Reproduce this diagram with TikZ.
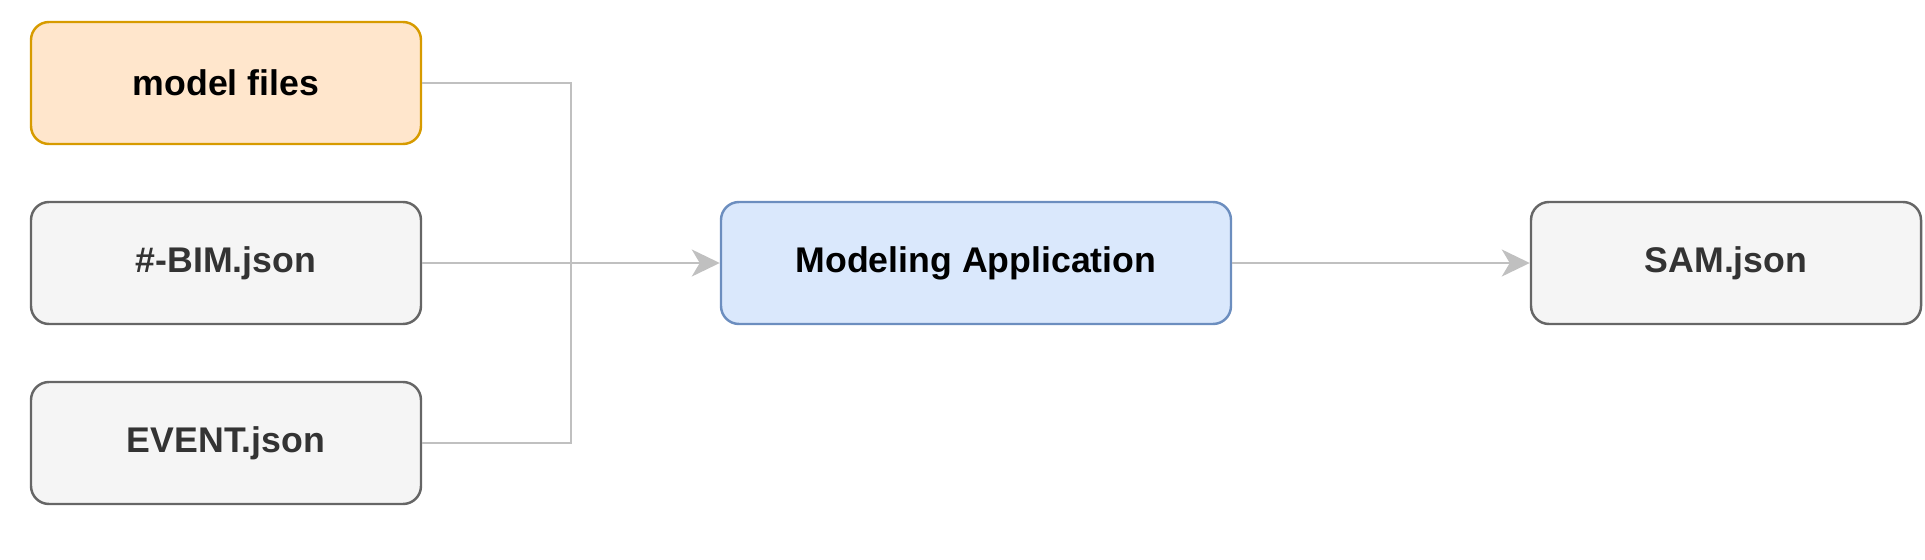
\documentclass[tikz,border=0pt]{standalone}
\usepackage{fontspec}
\setmainfont{Liberation Sans}
\definecolor{MFill}{HTML}{FFE6CC}
\definecolor{MLine}{HTML}{D79B00}
\definecolor{GFill}{HTML}{F5F5F5}
\definecolor{GLine}{HTML}{666666}
\definecolor{GText}{HTML}{333333}
\definecolor{BFill}{HTML}{DAE8FC}
\definecolor{BLine}{HTML}{6C8EBF}
\definecolor{Wire}{HTML}{C0C0C0}
\usetikzlibrary{arrows.meta,positioning}
\tikzset{
  box/.style={rounded corners=0.36cm,line width=1.4pt,minimum width=7.8cm,
    minimum height=2.44cm,font=\fontsize{20.3}{24}\selectfont\bfseries},
  filebox/.style={box,draw=GLine,fill=GFill,text=GText},
  link/.style={Wire,line width=1.1pt},
  tip/.style={-{Stealth[length=0.56cm,width=0.54cm,inset=0.16cm]}}
}
\begin{document}
\begin{tikzpicture}
    \useasboundingbox (0,0) rectangle (38.5,-11.2);
    % inputs
    \node[box,draw=MLine,fill=MFill,text=black] (mf) at (4.52,-1.66) {model files};
    \node[filebox] (bim) at (4.52,-5.26) {\#-BIM.json};
    \node[filebox] (ev) at (4.52,-8.86) {EVENT.json};
    % application and output
    \node[box,draw=BLine,fill=BFill,text=black,minimum width=10.2cm] (app) at (19.52,-5.26) {Modeling Application};
    \node[filebox] (sam) at (34.52,-5.26) {SAM.json};
    % connectors
    \coordinate (jn) at (11.42,-5.26);
    \draw[link] (mf.east) -| (jn);
    \draw[link] (ev.east) -| (jn);
    \draw[link,tip] (bim.east) -- (app.west);
    \draw[link,tip] (app.east) -- (sam.west);
\end{tikzpicture}
\end{document}
